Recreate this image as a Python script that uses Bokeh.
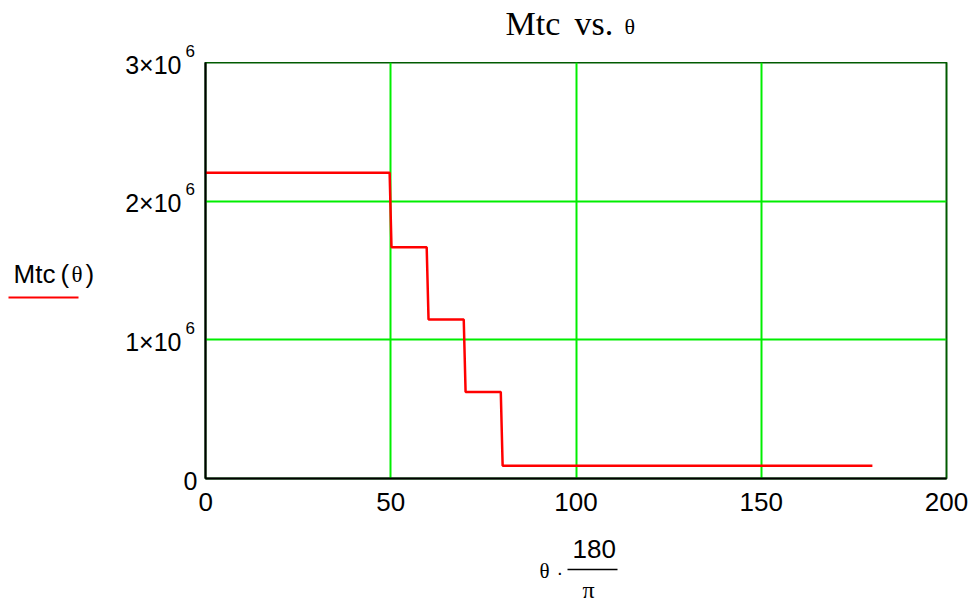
from bokeh.plotting import figure
from bokeh.models import Range1d, FixedTicker
from bokeh.layouts import row, column
from bokeh.core.properties import value
from bokeh.embed import file_html
from bokeh.resources import INLINE

# ---- data ----
theta_deg = [0, 49.7, 50.2, 59.7, 60.2, 69.7, 70.2, 79.7, 80.2, 180]
mtc = [2.205e6, 2.205e6, 1.667e6, 1.667e6, 1.147e6, 1.147e6, 0.624e6, 0.624e6, 0.092e6, 0.092e6]

x_ticks = [0, 50, 100, 150, 200]
y_ticks = [0, 1e6, 2e6, 3e6]
y_mant = ["0", "1\u00d710", "2\u00d710", "3\u00d710"]
y_exp = ["", "6", "6", "6"]

title_words = ["Mtc", "vs."]
title_var = "\u03b8"
legend_name = "Mtc"
legend_arg = "\u03b8"

SANS = "Liberation Sans"
SERIF = "Liberation Serif"

# ---- page layout (pixels) ----
W, H = 978, 602
FL, FR, FT, FB = 205, 946, 62, 478     # plot frame box on the page
LW = 198                               # width of the left strip (legend, y labels)
RW = W - LW
MB = 50                                # space under the frame for x tick labels
MH = (FB - FT) + MB
BH = H - FT - MH
YPX = 3e6 / (FB - FT)                  # data units per pixel, vertical


def page_to_y(py):
    return (FB - py) * YPX


def deco_fig(w, h, xr, yr):
    f = figure(width=w, height=h, output_backend="svg", toolbar_location=None,
               title=None, x_range=xr, y_range=yr, x_axis_type=None, y_axis_type=None,
               min_border=0, min_border_left=0, min_border_right=0,
               min_border_top=0, min_border_bottom=0,
               background_fill_color="white", border_fill_color="white")
    f.outline_line_color = None
    f.grid.visible = False
    return f


def txt(f, x, y, s, font, size, align="left"):
    f.text(x=[x], y=[y], text=[s], text_font=value(font), text_font_size=value(size),
           text_align=align, text_baseline="middle", text_color="black")


# ---- main plot ----
p = figure(width=RW, height=MH, output_backend="svg", toolbar_location=None, title=None,
           x_range=Range1d(0, 200), y_range=Range1d(0, 3e6),
           min_border_left=FL - LW, min_border_right=W - FR,
           min_border_top=0, min_border_bottom=MB,
           background_fill_color="white", border_fill_color="white")
p.outline_line_color = "#005a00"
p.outline_line_width = 2

p.xaxis.ticker = FixedTicker(ticks=x_ticks)
p.yaxis.ticker = FixedTicker(ticks=y_ticks)
for ax in (p.xaxis[0], p.yaxis[0]):
    ax.axis_line_color = "black"
    ax.axis_line_width = 2
    ax.major_tick_line_color = None
    ax.minor_tick_line_color = None
    ax.major_tick_out = 0
    ax.major_tick_in = 0
p.xaxis.major_label_text_font = SANS
p.xaxis.major_label_text_font_size = "26px"
p.xaxis.major_label_text_color = "black"
p.xaxis.major_label_standoff = 14
p.yaxis.major_label_overrides = {t: "" for t in y_ticks}
p.yaxis.major_label_standoff = 0

p.xgrid.ticker = FixedTicker(ticks=x_ticks[1:-1])
p.ygrid.ticker = FixedTicker(ticks=y_ticks[1:-1])
for g in (p.xgrid[0], p.ygrid[0]):
    g.grid_line_color = "#00ee00"
    g.grid_line_width = 2

p.line(theta_deg, mtc, line_color="#ff0000", line_width=2.5)

# ---- left strip: y tick labels and legend (full page height) ----
left = deco_fig(LW, H, Range1d(0, LW), Range1d(page_to_y(H), page_to_y(0)))
for t, m, e in zip(y_ticks, y_mant, y_exp):
    if e:
        txt(left, 181, t - 2 * YPX, m, SANS, "25px", "right")
        txt(left, 185, t + 12 * YPX, e, SANS, "17px", "left")
    else:
        txt(left, 197, t - 2 * YPX, m, SANS, "25px", "right")

txt(left, 13, page_to_y(273), legend_name, SANS, "26px")
txt(left, 60, page_to_y(273), "(", SANS, "26px")
txt(left, 71, page_to_y(274), legend_arg, SERIF, "23px")
txt(left, 85, page_to_y(273), ")", SANS, "26px")
left.line([8, 78], [page_to_y(297), page_to_y(297)], line_color="#ff0000", line_width=2)

# ---- top strip: title (its frame is aligned with the plot frame in x) ----
top = deco_fig(RW, FT, Range1d(FL, FR), Range1d(FT, 0))
txt(top, 505, 23, title_words[0], SERIF, "34px")
txt(top, 574, 23, title_words[1], SERIF, "34px")
txt(top, 624, 26, title_var, SERIF, "22px")

# ---- bottom strip: x axis label  theta * 180 / pi ----
bottom = deco_fig(RW, BH, Range1d(FL, FR), Range1d(H, H - BH))
txt(bottom, 539, 570, "\u03b8", SERIF, "21px")
txt(bottom, 556, 571, "\u00b7", SANS, "20px")
txt(bottom, 572, 548, "180", SANS, "26px")
bottom.line([567, 617], [569, 569], line_color="black", line_width=1.5)
txt(bottom, 582, 589, "\u03c0", SERIF, "24px")

layout = row(left, column(top, p, bottom, spacing=0), spacing=0)

open("out.html", "w").write(file_html(layout, INLINE))
